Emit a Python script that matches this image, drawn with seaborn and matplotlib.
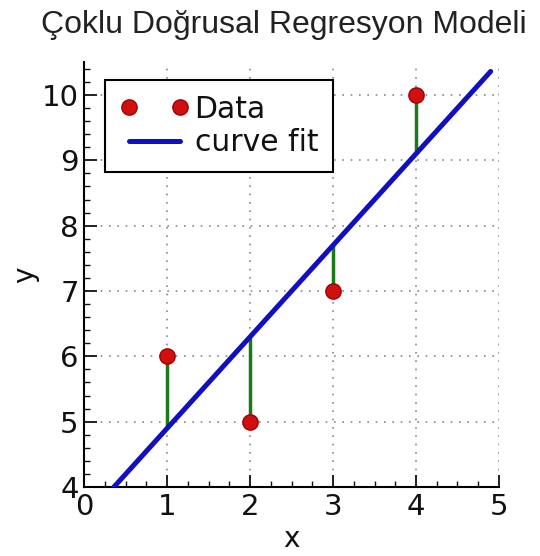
import numpy as np
import pandas as pd
import matplotlib
matplotlib.use("Agg")
import matplotlib.pyplot as plt
from matplotlib.ticker import MultipleLocator
import seaborn as sns

# Observations
x_data = [1, 2, 3, 4]
y_data = [6, 5, 7, 10]
# Range over which the fitted line is drawn
fit_range = [0.357, 4.9]

x_ticks = [0, 1, 2, 3, 4, 5]
y_ticks = [4, 5, 6, 7, 8, 9, 10]

sns.set_style("white")
plt.rcParams["font.family"] = ["DejaVu Sans"]
plt.rcParams["text.color"] = "#111111"
plt.rcParams["axes.labelcolor"] = "#111111"

slope, intercept = np.polyfit(x_data, y_data, 1)
fit_x = np.array(fit_range)
fit_y = intercept + slope * fit_x
pred = intercept + slope * np.array(x_data)

df = pd.DataFrame({"x": x_data, "y": y_data})
fit_df = pd.DataFrame({"x": fit_x, "y": fit_y})

fig = plt.figure(figsize=(5.4, 5.56), dpi=100)
ax = fig.add_axes([0.156, 0.124, 0.768, 0.764])

# residuals
ax.vlines(x_data, y_data, pred, colors="#1a7a1a", linewidth=2.5, zorder=2)
sns.lineplot(data=fit_df, x="x", y="y", ax=ax, color="#1010c0", linewidth=3.6,
             label="curve fit", zorder=3)
ax.plot(x_data, y_data, "o", color="#d01010", markeredgecolor="#a00000",
        markersize=11, label="Data", zorder=4)

ax.set_xlim(0, 5)
ax.set_ylim(4, 10.5)
ax.set_xticks(x_ticks)
ax.set_yticks(y_ticks)
ax.xaxis.set_minor_locator(MultipleLocator(0.25))
ax.yaxis.set_minor_locator(MultipleLocator(0.2))
ax.tick_params(which="major", direction="in", length=9, width=1.3, labelsize=21,
               bottom=True, left=True, pad=4, colors="#111111")
ax.tick_params(which="minor", direction="in", length=4, width=1.0,
               bottom=True, left=True, colors="#111111")
ax.grid(True, which="major", linestyle=(0, (1, 4)), color="#888888", linewidth=1.2)
for s in ["top", "right"]:
    ax.spines[s].set_visible(False)
for s in ["left", "bottom"]:
    ax.spines[s].set_color("black")
    ax.spines[s].set_linewidth(1.5)

ax.set_xlabel("x", fontsize=20, labelpad=3)
ax.set_ylabel("y", fontsize=20, labelpad=2)

h, l = ax.get_legend_handles_labels()
order = [l.index("Data"), l.index("curve fit")]
leg = ax.legend([h[i] for i in order], [l[i] for i in order], loc="upper left",
                bbox_to_anchor=(0.05, 0.959), numpoints=2, fontsize=21.5,
                fancybox=False, framealpha=1, edgecolor="black",
                handlelength=2.3, handletextpad=0.2, borderpad=0.5,
                labelspacing=0.15, borderaxespad=0)
leg.get_frame().set_linewidth(1.5)

fig.text(0.526, 0.955, "Çoklu Doğrusal Regresyon Modeli", ha="center", va="center",
         fontsize=23, family=["Liberation Sans", "DejaVu Sans"], color="#222222")

fig.savefig("out.png", dpi=100)
